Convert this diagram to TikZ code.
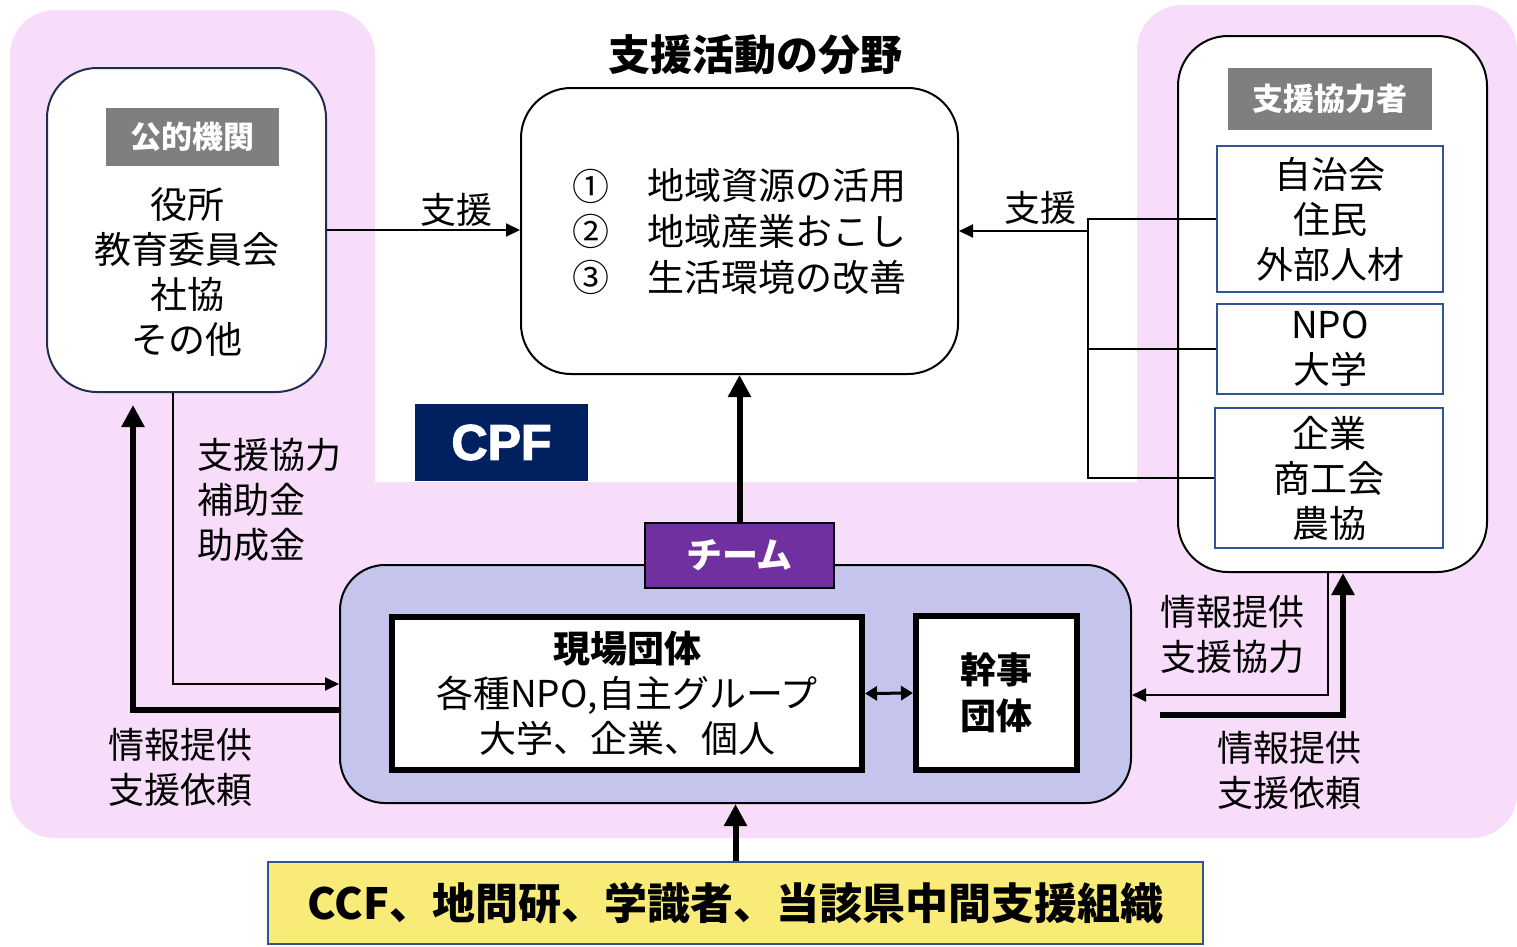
\documentclass[tikz,border=0pt]{standalone}
\usepackage{fontspec}
\setmainfont{Noto Sans CJK JP}
\newfontfamily\latinfont[BoldFeatures={FakeBold=2.5}]{Liberation Sans}
\usetikzlibrary{arrows.meta}
\definecolor{pinkbg}{RGB}{247,221,250}
\definecolor{lavbg}{RGB}{196,196,236}
\definecolor{teampurple}{RGB}{112,48,160}
\definecolor{cpfnavy}{RGB}{0,32,96}
\definecolor{yellowbg}{RGB}{249,235,120}
\definecolor{labgray}{RGB}{127,127,127}
\definecolor{boxblue}{RGB}{47,85,151}
\definecolor{pubnavy}{RGB}{32,46,80}
\begin{document}
\begin{tikzpicture}[x=1pt,y=-1pt,
  txt/.style={font=\fontsize{37}{45}\selectfont, align=center, inner sep=0pt},
  lab/.style={font=\fontsize{36}{45}\selectfont, align=left, inner sep=0pt},
  graylab/.style={fill=labgray, text=white, inner sep=0pt, font=\bfseries\fontsize{31}{31}\selectfont},
  pubbox/.style={draw=pubnavy, fill=white, line width=2pt, rounded corners=50pt, inner sep=0pt},
  actbox/.style={draw=black, fill=white, line width=2pt, rounded corners=50pt, inner sep=0pt},
  bluebox/.style={draw=boxblue, fill=white, line width=2.5pt, inner sep=0pt, align=center, font=\fontsize{37}{45}\selectfont},
  lavbox/.style={draw=black, fill=lavbg, line width=2pt, rounded corners=45pt, inner sep=0pt},
  whbox/.style={draw=black, fill=white, line width=6pt, inner sep=0pt, align=center, font=\fontsize{37}{45}\selectfont},
  conn/.style={line width=2.5pt},
  thinarr/.style={line width=2pt, -{Triangle[length=14pt,width=13pt]}},
  thickarr/.style={line width=6pt, -{Triangle[length=22pt,width=22pt]}},
  dblarr/.style={line width=3pt, {Triangle[length=12pt,width=14pt]}-{Triangle[length=12pt,width=14pt]}}
]
\useasboundingbox (0,0) rectangle (1517,946);
% pink background
\fill[pinkbg, rounded corners=45pt] (10,10) rectangle (375,838);
\fill[pinkbg, rounded corners=45pt] (1137,5) rectangle (1517,838);
\fill[pinkbg, rounded corners=45pt] (10,482) rectangle (1517,838);

% public institutions
\node[pubbox, minimum width=279pt, minimum height=324pt] (pub) at (186.5,230) {};
\node[graylab, minimum width=173pt, minimum height=58pt] (publab) at (192.5,137) {公的機関};
\node[txt] (pubtxt) at (187,272) {役所\\教育委員会\\社協\\その他};

% activity field
\node[font=\bfseries\fontsize{42}{42}\selectfont, inner sep=0pt] (acttitle) at (755,55) {支援活動の分野};
\node[actbox, minimum width=437pt, minimum height=286pt] (act) at (739.5,231) {};
\node[txt] (n1) at (591,186) {①};
\node[txt] (n2) at (591,231) {②};
\node[txt] (n3) at (591,277) {③};
\node[txt, anchor=west] (i1) at (647,186) {地域資源の活用};
\node[txt, anchor=west] (i2) at (647,231) {地域産業おこし};
\node[txt, anchor=west] (i3) at (647,277) {生活環境の改善};

% supporters
\node[actbox, minimum width=309pt, minimum height=536pt] (sup) at (1332.5,304) {};
\node[graylab, minimum width=204pt, minimum height=62pt] (suplab) at (1330,99) {支援協力者};
\coordinate (tr) at (1088,0);
\node[bluebox, minimum width=226pt, minimum height=146pt] (b1) at (1330,219) {自治会\\住民\\外部人材};
\node[bluebox, minimum width=226pt, minimum height=90pt] (b2) at (1330,349) {NPO\\大学};
\node[bluebox, minimum width=228pt, minimum height=140pt] (b3) at (1329,478) {企業\\商工会\\農協};
\draw[conn] (b1.west) -- (tr |- b1.west) -- (tr |- b3.west) -- (b3.west);
\draw[conn] (b2.west) -- (tr |- b2.west);
\draw[thinarr] (tr |- act.east) -- (act.east);
\node[lab] (s2) at (1040,208) {支援};

% support arrow from public
\draw[thinarr] (pub.east) -- (pub.east -| act.west);
\node[lab] (s1) at (456,210) {支援};

% CPF
\node[fill=cpfnavy, text=white, minimum width=173pt, minimum height=77pt, inner sep=0pt,
      font=\latinfont\bfseries\fontsize{50}{50}\selectfont] (cpf) at (501.5,442.5) {CPF};

% team area
\node[lavbox, minimum width=791pt, minimum height=238pt] (lav) at (735.5,684) {};
\node[draw=black, fill=teampurple, line width=2pt, text=white, minimum width=189pt, minimum height=65pt, inner sep=0pt,
      font=\bfseries\fontsize{36}{36}\selectfont] (team) at (739.5,555.5) {チーム};
\node[whbox, minimum width=470pt, minimum height=153pt] (gen) at (627,693.5) {\textbf{現場団体}\\各種NPO,自主グループ\\大学、企業、個人};
\node[whbox, minimum width=161pt, minimum height=154pt, font=\bfseries\fontsize{36}{46}\selectfont] (kan) at (996.5,693) {幹事\\団体};
\draw[dblarr] (gen.east) -- (kan.west);
\draw[thickarr] (team.north) -- (act.south);

% left connectors
\coordinate (lt) at (133,405);
\draw[thinarr] ([xshift=-13.5pt]pub.south) |- (lav.west);
\draw[thickarr] ([yshift=-26pt]lav.west) -| (lt);
\node[lab, anchor=west] (l1) at (197,500) {支援協力\\補助金\\助成金};
\node[lab, anchor=west] (l2) at (108,767) {情報提供\\支援依頼};

% right connectors
\coordinate (rt) at (1160,715);
\draw[thinarr] ([xshift=-4.5pt]sup.south) |- ([yshift=-11pt]lav.east);
\draw[thickarr] (rt) -| ([xshift=10.5pt]sup.south);
\node[lab, anchor=west] (l3) at (1160,634) {情報提供\\支援協力};
\node[lab, anchor=west] (l4) at (1217,770) {情報提供\\支援依頼};

% bottom
\node[fill=yellowbg, draw=boxblue, line width=2pt, minimum width=935pt, minimum height=82pt, inner sep=0pt,
      font=\bfseries\fontsize{43}{43}\selectfont] (yel) at (735.5,903) {CCF、地問研、学識者、当該県中間支援組織};
\draw[thickarr] (yel.north) -- (lav.south);
\end{tikzpicture}
\end{document}
